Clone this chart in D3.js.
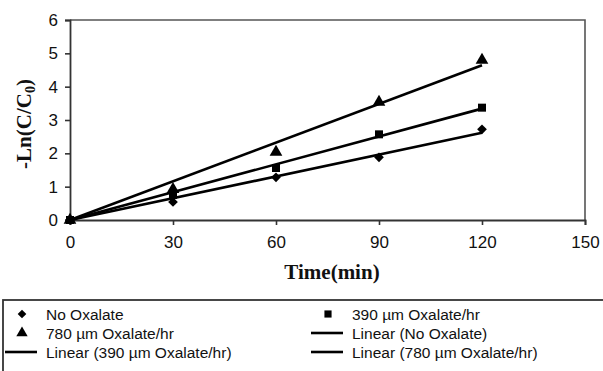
<!DOCTYPE html>
<html>
<head>
<meta charset="utf-8">
<script src="https://cdn.jsdelivr.net/npm/d3@7"></script>
<style>
  html, body { margin: 0; padding: 0; background: #fff; }
  svg { display: block; }
</style>
</head>
<body>
<svg id="chart" width="603" height="371"></svg>
<script>
// Reaction time (min) and -ln(C/C0) for each oxalate dosing rate
const times = [0, 30, 60, 90, 120];
const noOxalate = [0, 0.54, 1.28, 1.88, 2.72];
const oxalate390 = [0, 0.75, 1.56, 2.57, 3.37];
const oxalate780 = [0, 0.92, 2.04, 3.54, 4.8];
const xTicks = [0, 30, 60, 90, 120, 150];
const yTicks = [0, 1, 2, 3, 4, 5, 6];
const seriesNames = ["No Oxalate", "390 \u00b5m Oxalate/hr", "780 \u00b5m Oxalate/hr"];
const seriesSymbols = [d3.symbolDiamond2, d3.symbolSquare, d3.symbolTriangle];

const svg = d3.select("#chart");
const plotLeft = 70, plotRight = 585, plotTop = 20, plotBottom = 220;

const x = d3.scaleLinear().domain([0, 150]).range([plotLeft, plotRight]);
const y = d3.scaleLinear().domain([0, 6]).range([plotBottom, plotTop]);

// Frame (top and right edges of the plot area)
svg.append("path")
  .attr("d", `M${plotLeft},${plotTop}H${plotRight}V${plotBottom}`)
  .attr("fill", "none").attr("stroke", "#555").attr("stroke-width", 1.6);

// Axes
const xAxis = svg.append("g").attr("transform", `translate(0,${plotBottom})`)
  .call(d3.axisBottom(x).tickValues(xTicks).tickSize(5).tickPadding(7).tickFormat(d3.format("d")));
const yAxis = svg.append("g").attr("transform", `translate(${plotLeft},0)`)
  .call(d3.axisLeft(y).tickValues(yTicks).tickSize(5).tickPadding(7).tickFormat(d3.format("d")));
[xAxis, yAxis].forEach(g => {
  g.select(".domain").attr("stroke", "#333").attr("stroke-width", 1.8);
  g.selectAll(".tick line").attr("stroke", "#333").attr("stroke-width", 1.6);
  g.selectAll(".tick text")
    .attr("fill", "#111")
    .style("font-family", "'Liberation Sans', Arial, sans-serif")
    .style("font-size", "17px");
});
xAxis.selectAll(".tick text").attr("dy", "0.95em");

// Axis titles
svg.append("text")
  .attr("x", 332).attr("y", 279)
  .attr("text-anchor", "middle")
  .style("font-family", "'Liberation Serif', 'Times New Roman', serif")
  .style("font-weight", "bold").style("font-size", "21px")
  .attr("fill", "#111")
  .text("Time(min)");

const yTitle = svg.append("text")
  .attr("transform", "translate(31,124) rotate(-90)")
  .attr("text-anchor", "middle")
  .style("font-family", "'Liberation Serif', 'Times New Roman', serif")
  .style("font-weight", "bold").style("font-size", "21px")
  .attr("fill", "#111");
yTitle.append("tspan").text("-Ln(C/C");
yTitle.append("tspan").attr("dy", 4).style("font-size", "14px").text("0");
yTitle.append("tspan").attr("dy", -4).text(")");

// Linear trendlines through the origin (least squares, zero intercept)
const allSeries = [noOxalate, oxalate390, oxalate780];
allSeries.forEach(vals => {
  const sxy = d3.sum(times, (t, i) => t * vals[i]);
  const sxx = d3.sum(times, t => t * t);
  const slope = sxy / sxx;
  const t0 = times[0], t1 = times[times.length - 1];
  svg.append("line")
    .attr("x1", x(t0)).attr("y1", y(slope * t0))
    .attr("x2", x(t1)).attr("y2", y(slope * t1))
    .attr("stroke", "#000").attr("stroke-width", 2.6);
});

// Markers
const markerSizes = [60, 64, 70];
allSeries.forEach((vals, s) => {
  svg.append("g").selectAll("path")
    .data(times)
    .join("path")
    .attr("transform", (t, i) => `translate(${x(t)},${y(vals[i])})`)
    .attr("d", d3.symbol().type(seriesSymbols[s]).size(markerSizes[s]))
    .attr("fill", "#000");
});

// Legend
const legend = svg.append("g");
legend.append("rect")
  .attr("x", 3).attr("y", 300).attr("width", 620).attr("height", 90)
  .attr("fill", "#fff").attr("stroke", "#333").attr("stroke-width", 1.8);

const legendItems = [
  { label: seriesNames[0], kind: "marker", s: 0 },
  { label: seriesNames[1], kind: "marker", s: 1 },
  { label: seriesNames[2], kind: "marker", s: 2 },
  { label: "Linear (" + seriesNames[0] + ")", kind: "line" },
  { label: "Linear (" + seriesNames[1] + ")", kind: "line" },
  { label: "Linear (" + seriesNames[2] + ")", kind: "line" }
];
const colX = [0, 306];
const rowY = [314, 333, 352];
legendItems.forEach((item, i) => {
  const cx = colX[i % 2], cy = rowY[Math.floor(i / 2)];
  if (item.kind === "marker") {
    legend.append("path")
      .attr("transform", `translate(${cx + 22},${cy})`)
      .attr("d", d3.symbol().type(seriesSymbols[item.s]).size(markerSizes[item.s] * 0.8))
      .attr("fill", "#000");
  } else {
    legend.append("line")
      .attr("x1", cx + 5).attr("x2", cx + 37)
      .attr("y1", cy).attr("y2", cy)
      .attr("stroke", "#000").attr("stroke-width", 2.6);
  }
  legend.append("text")
    .attr("x", cx + 46).attr("y", cy)
    .attr("dy", "0.36em")
    .style("font-family", "'Liberation Sans', Arial, sans-serif")
    .style("font-size", "15.5px")
    .attr("fill", "#111")
    .text(item.label);
});
</script>
</body>
</html>
